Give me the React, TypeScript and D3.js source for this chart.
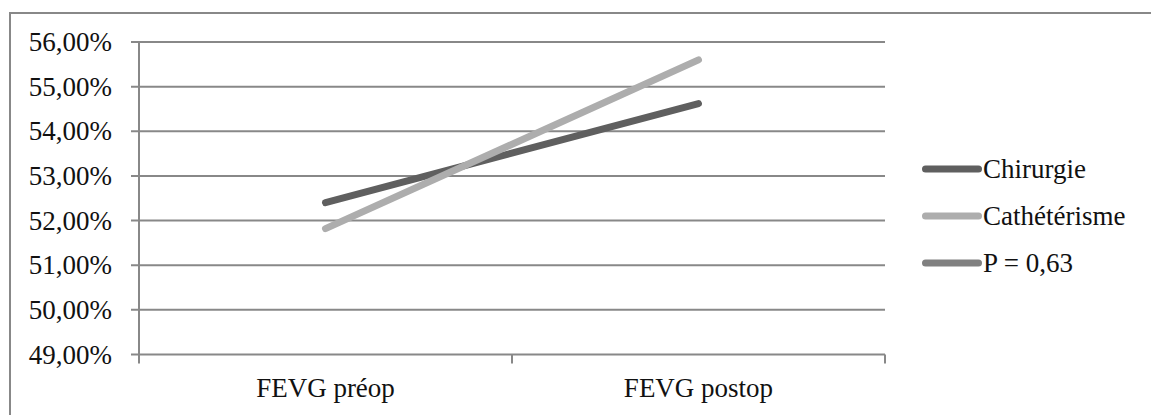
import React from "react";
import * as d3 from "d3";

const categories = ["FEVG préop", "FEVG postop"];
const chirurgie = [0.524, 0.5462];
const catheterisme = [0.5182, 0.556];
const yTicks = [0.49, 0.5, 0.51, 0.52, 0.53, 0.54, 0.55, 0.56];
const legendItems = ["Chirurgie", "Cathétérisme", "P = 0,63"];
const legendColors = ["#5f5f5f", "#adadad", "#808080"];

const W = 1151;
const H = 415;
const FONT = "'Liberation Serif', 'Times New Roman', serif";
const FS = 27;

export default function App() {
  const x = d3.scaleBand<string>().domain(categories).range([139, 885]);
  const y = d3.scaleLinear().domain([0.49, 0.56]).range([354.5, 42]);
  const fmt = (v: number) => (v * 100).toFixed(2).replace(".", ",") + "%";
  const line = d3
    .line<number>()
    .x((_, i) => (x(categories[i]) as number) + x.bandwidth() / 2)
    .y((d) => y(d));
  const series = [chirurgie, catheterisme];
  const grid = "#888888";
  const boundaries = [...categories.map((c) => x(c) as number), 885];

  return (
    <svg
      width={W}
      height={H}
      style={{ position: "absolute", left: 0, top: 0, background: "#fff" }}
      fontFamily={FONT}
    >
      <rect x={0} y={0} width={W} height={H} fill="#fff" />
      {/* outer chart frame */}
      <path d={`M10,${H + 5} V13 H${W + 5}`} fill="none" stroke="#888" strokeWidth={2} />
      {/* horizontal gridlines and tick marks */}
      {yTicks.map((t) => (
        <g key={t}>
          <line x1={131} x2={885} y1={y(t)} y2={y(t)} stroke={grid} strokeWidth={2} />
          <text
            x={112}
            y={y(t)}
            dy="0.34em"
            textAnchor="end"
            fontSize={FS}
            fill="#111"
          >
            {fmt(t)}
          </text>
        </g>
      ))}
      {/* value axis */}
      <line x1={139} x2={139} y1={y(0.56)} y2={y(0.49)} stroke={grid} strokeWidth={2} />
      {/* category tick marks */}
      {boundaries.map((b, i) => (
        <line key={i} x1={b} x2={b} y1={y(0.49)} y2={y(0.49) + 9} stroke={grid} strokeWidth={2} />
      ))}
      {categories.map((c) => (
        <text
          key={c}
          x={(x(c) as number) + x.bandwidth() / 2}
          y={397}
          textAnchor="middle"
          fontSize={FS}
          fill="#111"
        >
          {c}
        </text>
      ))}
      {/* series lines */}
      {series.map((s, i) => (
        <path
          key={i}
          d={line(s) as string}
          fill="none"
          stroke={legendColors[i]}
          strokeWidth={7}
          strokeLinecap="round"
        />
      ))}
      {/* legend */}
      {legendItems.map((name, i) => {
        const ly = 169 + i * 47;
        return (
          <g key={name}>
            <line x1={925.5} x2={978.5} y1={ly} y2={ly} stroke={legendColors[i]} strokeWidth={7} strokeLinecap="round" />
            <text x={983} y={ly} dy="0.34em" fontSize={FS} fill="#111">
              {name}
            </text>
          </g>
        );
      })}
    </svg>
  );
}
